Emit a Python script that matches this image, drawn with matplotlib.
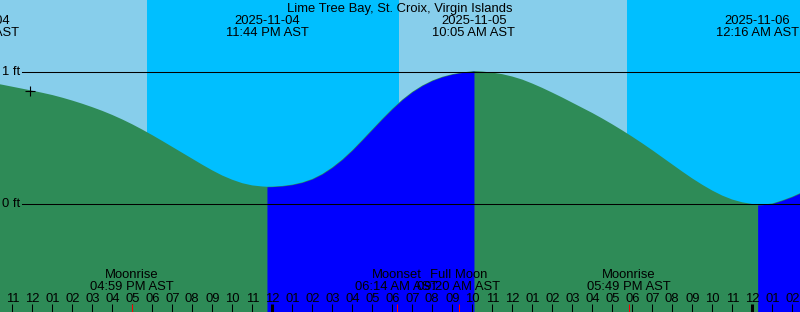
import numpy as np
import pandas as pd
import matplotlib
matplotlib.use('Agg')
import matplotlib.pyplot as plt
from matplotlib import transforms

plt.rcParams['font.family'] = ['Liberation Sans', 'DejaVu Sans']

station = 'Lime Tree Bay, St. Croix, Virgin Islands'
origin = pd.Timestamp('2025-11-04 00:00')

# water level (hours after origin, feet)
level_hours = [10, 10.5, 11, 11.5, 12, 12.5, 13, 13.5, 14, 14.5, 15, 15.5, 16, 16.5,
               17, 17.5, 18, 18.5, 19, 19.5, 20, 20.5, 21, 21.5, 22, 22.5, 23, 23.5, 23.733,
               24, 24.5, 25, 25.5, 26, 26.5, 27, 27.5, 28, 28.5, 29, 29.5, 30, 30.5,
               31, 31.5, 32, 32.5, 33, 33.5, 34, 34.083,
               34.5, 35, 35.5, 36, 36.5, 37, 37.5, 38, 38.5, 39, 39.5, 40, 40.5, 41, 41.5,
               42, 42.5, 43, 43.5, 44, 44.5, 45, 45.5, 46, 46.5, 47, 47.5, 48, 48.267,
               48.5, 49, 49.5, 50, 50.5, 51]
level_ft = [0.92, 0.906, 0.891, 0.876, 0.861, 0.845, 0.828, 0.808, 0.786, 0.762, 0.736, 0.708, 0.677, 0.643,
            0.606, 0.566, 0.524, 0.48, 0.435, 0.39, 0.345, 0.3, 0.257, 0.218, 0.186, 0.16, 0.143, 0.135, 0.133,
            0.134, 0.139, 0.149, 0.166, 0.192, 0.23, 0.28, 0.34, 0.41, 0.488, 0.568, 0.648, 0.724, 0.793,
            0.852, 0.9, 0.938, 0.966, 0.986, 0.999, 1.008, 1.01,
            1.006, 0.998, 0.986, 0.968, 0.945, 0.915, 0.882, 0.846, 0.809, 0.77, 0.731, 0.692, 0.65, 0.606, 0.56,
            0.512, 0.462, 0.41, 0.356, 0.302, 0.248, 0.196, 0.148, 0.104, 0.066, 0.036, 0.015, 0.002, -0.005,
            -0.003, 0.006, 0.03, 0.058, 0.092, 0.13]

tide_times = ['2025-11-04 09:16', '2025-11-04 23:44', '2025-11-05 10:05', '2025-11-06 00:16']
tide_kinds = ['high', 'low', 'high', 'low']

sun_times = ['2025-11-04 17:44', '2025-11-05 06:20', '2025-11-05 17:44']
sun_kinds = ['set', 'rise', 'set']

moon_times = ['2025-11-04 16:59', '2025-11-05 06:14', '2025-11-05 09:20', '2025-11-05 17:49']
moon_names = ['Moonrise', 'Moonset', 'Full Moon', 'Moonrise']

now_time = '2025-11-04 11:53'
now_ft = 0.86

datum_lines = [0, 1]

day_color = '#87CEEB'
night_color = '#00BFFF'
flood_color = '#0000FF'
ebb_color = '#2E8B57'
fs = 9.4

def hours(s):
    return (pd.Timestamp(s) - origin) / pd.Timedelta(hours=1)

t = np.array(level_hours)
h = np.array(level_ft)
tide_h = [hours(s) for s in tide_times]
sun_h = [hours(s) for s in sun_times]
moon_h = [hours(s) for s in moon_times]

W, H = 800, 312
x0 = 10.385
x1 = x0 + 40
ybot, ytop = -0.816, 1.548

fig = plt.figure(figsize=(W / 100, H / 100), dpi=100, facecolor=day_color)
ax = fig.add_axes([0, 0, 1, 1])
ax.axis('off')
ax.set_xlim(x0, x1)
ax.set_ylim(ybot, ytop)
bt = transforms.blended_transform_factory(ax.transData, ax.transAxes)

def py(p):
    # pixel row from top -> axes fraction
    return 1 - p / H

# night
for i, k in enumerate(sun_kinds):
    if k == 'set':
        end = sun_h[i + 1] if i + 1 < len(sun_h) else x1 + 1
        ax.axvspan(sun_h[i], end, color=night_color, lw=0, zorder=0)

# tide fill: ebb everywhere, flood on rising parts (low -> next high)
ax.fill_between(t, h, ybot, color=ebb_color, lw=0, zorder=1)
eps = 0.01
for i, k in enumerate(tide_kinds):
    if k == 'low':
        end = tide_h[i + 1] if i + 1 < len(tide_h) else t.max()
        m = (t >= tide_h[i] - eps) & (t <= end + eps)
        ax.fill_between(t[m], h[m], ybot, color=flood_color, lw=0, zorder=1)

for d in datum_lines:
    ax.axhline(d, xmin=22 / W, xmax=1, color='k', lw=0.75, zorder=2)
    ax.text(20 / W * 40 + x0, d, '%d ft' % d, ha='right', va='center', fontsize=fs, zorder=3)

ax.plot(hours(now_time), now_ft, marker='+', ms=6.5, mew=0.8, color='k', zorder=3)

ax.text((x0 + x1) / 2, py(11.7), station, transform=bt, ha='center', va='baseline', fontsize=fs)

for s in tide_times:
    ts = pd.Timestamp(s)
    ax.text(hours(s), py(24), ts.strftime('%Y-%m-%d'), transform=bt, ha='center', va='baseline', fontsize=fs)
    ax.text(hours(s), py(36.5), ts.strftime('%I:%M %p AST'), transform=bt, ha='center', va='baseline', fontsize=fs)

for s, name in zip(moon_times, moon_names):
    ts = pd.Timestamp(s)
    ax.text(hours(s), py(278.3), name, transform=bt, ha='center', va='baseline', fontsize=fs)
    ax.text(hours(s), py(290), ts.strftime('%I:%M %p AST'), transform=bt, ha='center', va='baseline', fontsize=fs)

# hour ticks
tick_h = np.arange(np.ceil(x0), x1 + 1)
for hh in tick_h:
    ts = origin + pd.Timedelta(hours=hh)
    ax.text(hh, py(301.7), ts.strftime('%I'), transform=bt, ha='center', va='baseline', fontsize=fs)
    lw = 2.2 if ts.hour == 0 else 0.75
    ax.vlines(hh, 0, 8 / H, transform=bt, color='k', lw=lw, zorder=3)
ax.vlines(moon_h, 0, 8 / H, transform=bt, color='red', lw=0.75, zorder=3)

fig.savefig('out.png', dpi=100, facecolor=day_color)
